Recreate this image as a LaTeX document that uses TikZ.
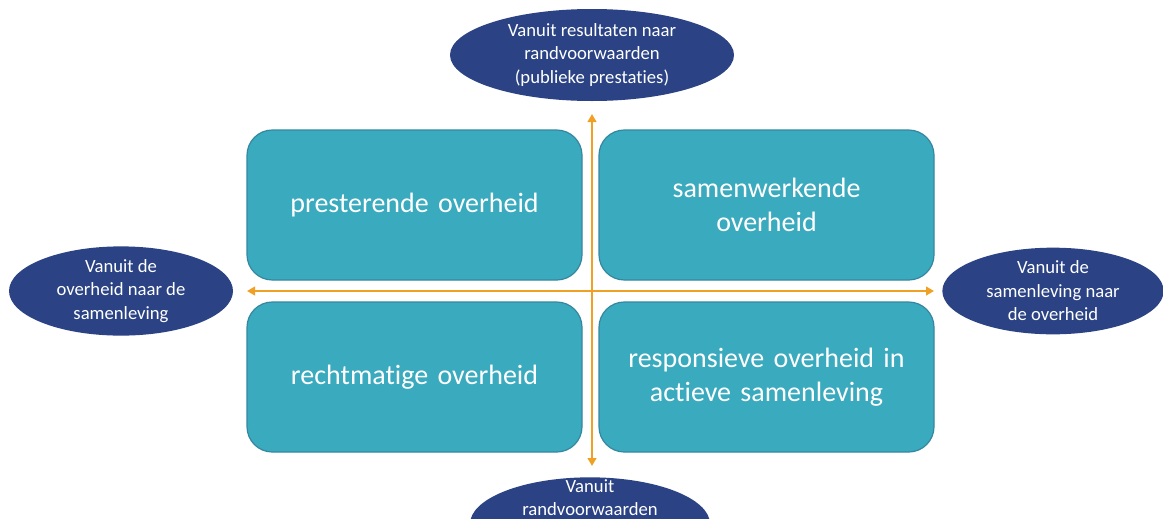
\documentclass[tikz,border=0pt]{standalone}
\usepackage{fontspec}
\setmainfont[Ligatures=NoCommon]{Carlito}
\usetikzlibrary{arrows.meta,shapes.geometric}
\definecolor{boxfill}{HTML}{3AAABE}
\definecolor{boxline}{HTML}{3587A0}
\definecolor{navy}{HTML}{2B4384}
\definecolor{arrowc}{HTML}{F0A125}
\tikzset{
  quad/.style={draw=boxline, line width=0.9pt, fill=boxfill, rounded corners=19pt,
    minimum width=251.25pt, minimum height=112.5pt, inner sep=0pt,
    text=white, font=\fontsize{21}{25.5}\selectfont, align=center, text width=240pt},
  oval/.style={ellipse, fill=navy, inner sep=0pt, text=white,
    font=\fontsize{14}{17.6}\selectfont, align=center},
  axis/.style={arrowc, line width=1.5pt, {Triangle[length=6pt,width=6.5pt]}-{Triangle[length=6pt,width=6.5pt]}}
}
\begin{document}
\begin{tikzpicture}[x=0.75pt,y=-0.75pt]
\useasboundingbox (0,0) rectangle (1163,518);
\clip (0,0) rectangle (1163,518);
\fill[white] (0,0) rectangle (1163,518);
% quadrant boxes
\node[quad] (tl) at (414.5,205) {\raisebox{-2pt}{presterende overheid}};
\node[quad] (tr) at (766.5,205) {\raisebox{-2pt}{samenwerkende}\\\raisebox{-2pt}{overheid}};
\node[quad] (bl) at (414.5,377) {\raisebox{-2pt}{rechtmatige overheid}};
\node[quad] (br) at (766.5,377) {\raisebox{-2pt}{responsieve overheid in}\\\raisebox{-2pt}{actieve samenleving}};
% axes
\coordinate (L) at (247,291);
\coordinate (R) at (934,291);
\coordinate (T) at (592,114);
\coordinate (B) at (592,466);
\draw[axis] (L) -- (R);
\draw[axis] (B) -- (T);
% ellipses
\node[oval, minimum width=213pt, minimum height=69pt] (top) at (592,55)
  {Vanuit resultaten naar\\randvoorwaarden\\(publieke prestaties)};
\node[oval, minimum width=168pt, minimum height=66pt] (left) at (121,291)
  {Vanuit de\\overheid naar de\\samenleving};
\node[oval, minimum width=166pt, minimum height=65pt] (right) at (1053,291)
  {Vanuit de\\samenleving naar\\de overheid};
\node[oval, minimum width=180pt, minimum height=70pt] (bottom) at (590,524) {};
\node[text=white, font=\fontsize{14}{17.6}\selectfont, align=center, anchor=north, inner sep=0pt]
  (bottomtext) at (590,479) {Vanuit\\randvoorwaarden};
\end{tikzpicture}
\end{document}
